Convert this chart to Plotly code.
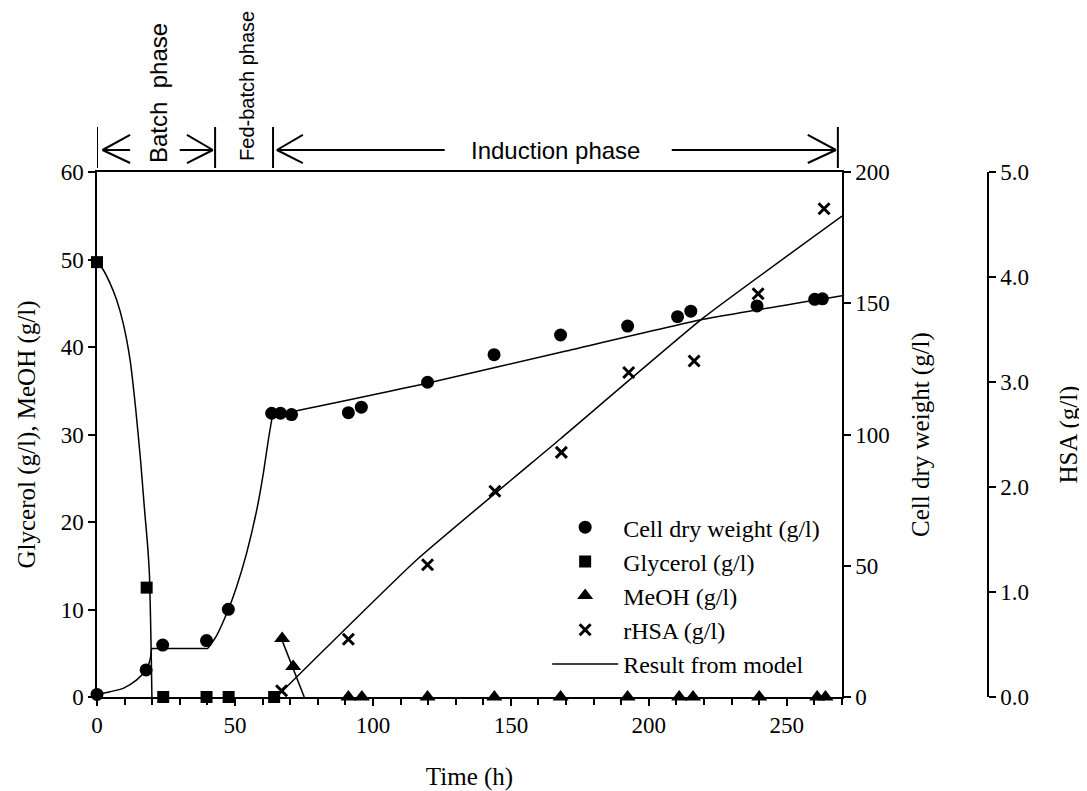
import plotly.graph_objects as go

# ---------------- data ----------------
t_cdw = [0, 17.8, 23.8, 39.7, 47.6, 63.3, 66.5, 70.5, 91.1, 95.8, 119.8, 143.9, 168.0, 192.3, 210.4, 215.2, 239.2, 260.1, 262.9]
cdw = [1.0, 10.3, 19.8, 21.5, 33.4, 108.1, 108.1, 107.6, 108.3, 110.4, 119.9, 130.4, 137.9, 141.3, 144.9, 147.0, 149.0, 151.5, 151.7]

t_gly = [0, 18.0, 24.0, 39.7, 47.7, 64.2]
gly = [49.7, 12.5, 0, 0, 0, 0]

t_meoh = [67.1, 71.1, 91.1, 96.0, 119.8, 144.0, 168.0, 192.3, 211.0, 216.0, 240.0, 261.0, 264.0]
meoh = [6.7, 3.5, 0, 0, 0, 0, 0, 0, 0, 0, 0, 0, 0]

t_hsa = [66.9, 91.1, 119.8, 144.2, 168.3, 192.7, 216.4, 239.6, 263.5]
hsa = [0.06, 0.55, 1.26, 1.96, 2.33, 3.09, 3.20, 3.84, 4.65]

# model curves
t_gly_model = [0, 2.3, 4.7, 7.1, 9.5, 12.0, 14.0, 15.8, 17.2, 18.3, 19.0, 19.4, 19.7, 19.9]
gly_model = [49.8, 48.8, 47.3, 45.4, 42.7, 38.5, 33.0, 27.0, 21.5, 17.5, 14.0, 9.0, 4.0, 0]

t_cdw_batch = [0, 4.7, 9.5, 14.4, 17.8, 19.2, 19.8]
cdw_batch = [1.0, 2.0, 3.3, 6.5, 10.3, 14.0, 18.5]
t_cdw_flat = [19.8, 40.2]
cdw_flat = [18.5, 18.5]
t_cdw_fed = [40.2, 43.4, 47.6, 50.6, 54.2, 57.9, 60.3, 62.1, 63.7]
cdw_fed = [18.5, 23.5, 33.3, 42.0, 54.7, 71.3, 85.3, 98.0, 108.0]
t_cdw_ind = [63.7, 70.5, 120.0, 170.0, 219.7, 270.0]
cdw_ind = [108.0, 108.7, 119.6, 131.8, 143.9, 152.9]

t_meoh_model = [67.3, 75.1]
meoh_model = [6.3, 0]

t_hsa_model = [65.0, 115.8, 168.0, 219.7, 270.0]
hsa_model = [0, 1.305, 2.46, 3.61, 4.58]

SERIF = "Liberation Serif, Times New Roman, serif"
SANS = "Liberation Sans, Arial, sans-serif"
FS_TICK = 23
FS_TITLE = 25
FS_LEG = 24

fig = go.Figure()

# model lines
line_style = dict(color="black", width=1.5)
fig.add_trace(go.Scatter(x=t_gly_model, y=gly_model, mode="lines", line=dict(**line_style, shape="spline", smoothing=0.6),
                         yaxis="y", showlegend=False, cliponaxis=False, hoverinfo="skip"))
fig.add_trace(go.Scatter(x=t_cdw_batch, y=cdw_batch, mode="lines", line=dict(**line_style, shape="spline", smoothing=0.6),
                         yaxis="y2", showlegend=False, cliponaxis=False, hoverinfo="skip"))
fig.add_trace(go.Scatter(x=t_cdw_flat, y=cdw_flat, mode="lines", line=line_style,
                         yaxis="y2", showlegend=False, cliponaxis=False, hoverinfo="skip"))
fig.add_trace(go.Scatter(x=t_cdw_fed, y=cdw_fed, mode="lines", line=dict(**line_style, shape="spline", smoothing=0.6),
                         yaxis="y2", showlegend=False, cliponaxis=False, hoverinfo="skip"))
fig.add_trace(go.Scatter(x=t_cdw_ind, y=cdw_ind, mode="lines", line=dict(**line_style, shape="spline", smoothing=0.4),
                         yaxis="y2", showlegend=False, cliponaxis=False, hoverinfo="skip"))
fig.add_trace(go.Scatter(x=t_meoh_model, y=meoh_model, mode="lines", line=line_style,
                         yaxis="y", showlegend=False, cliponaxis=False, hoverinfo="skip"))
fig.add_trace(go.Scatter(x=t_hsa_model, y=hsa_model, mode="lines", line=dict(**line_style, shape="spline", smoothing=0.4),
                         yaxis="y3", showlegend=False, cliponaxis=False, hoverinfo="skip"))

# data markers
fig.add_trace(go.Scatter(x=t_cdw, y=cdw, mode="markers", name="Cell dry weight (g/l)", yaxis="y2",
                         marker=dict(symbol="circle", size=13, color="black"), cliponaxis=False))
fig.add_trace(go.Scatter(x=t_gly, y=gly, mode="markers", name="Glycerol (g/l)", yaxis="y",
                         marker=dict(symbol="square", size=12, color="black"), cliponaxis=False))
fig.add_trace(go.Scatter(x=t_meoh, y=meoh, mode="markers", name="MeOH (g/l)", yaxis="y",
                         marker=dict(symbol="triangle-up", size=14, color="black"), cliponaxis=False))
fig.add_trace(go.Scatter(x=t_hsa, y=hsa, mode="markers", name="rHSA (g/l)", yaxis="y3",
                         marker=dict(symbol="x-thin", size=11, color="black", line=dict(color="black", width=3)),
                         cliponaxis=False))
# legend entry for model
fig.add_trace(go.Scatter(x=[None], y=[None], mode="lines", name="Result from model", line=line_style, yaxis="y"))

# -------- phase annotations (arrows above the plot) --------
shapes = []
bar_y0, bar_y1 = 1.0076, 1.0857
arrow_y = 1.0419
arm_hi, arm_lo = 1.0705, 1.0171
lw = 2
for xb in [0, 42.8, 63.8, 268.5]:
    shapes.append(dict(type="line", xref="x", yref="paper", x0=xb, x1=xb, y0=bar_y0, y1=bar_y1,
                       line=dict(color="black", width=lw)))

def seg(x0, x1, y0, y1):
    shapes.append(dict(type="line", xref="x", yref="paper", x0=x0, x1=x1, y0=y0, y1=y1,
                       line=dict(color="black", width=lw)))

def arrow(tip, arm_x, shaft_other):
    seg(tip, shaft_other, arrow_y, arrow_y)
    seg(tip, arm_x, arrow_y, arm_hi)
    seg(tip, arm_x, arrow_y, arm_lo)

arrow(2.0, 12.0, 12.0)
arrow(42.0, 32.6, 30.0)
arrow(65.2, 74.6, 126.0)
arrow(267.8, 257.6, 208.3)

annotations = [
    dict(text="Batch\u00a0 phase", x=22.1, y=1.0133, xref="x", yref="paper", textangle=-90,
         xanchor="center", yanchor="bottom", showarrow=False, font=dict(family=SANS, size=24, color="black")),
    dict(text="Fed-batch phase", x=54.3, y=1.017, xref="x", yref="paper", textangle=-90,
         xanchor="center", yanchor="bottom", showarrow=False, font=dict(family=SANS, size=20, color="black")),
    dict(text="Induction phase", x=166.0, y=arrow_y, xref="x", yref="paper",
         xanchor="center", yanchor="middle", showarrow=False, font=dict(family=SANS, size=24, color="black")),
]

axis_common = dict(showline=True, linecolor="black", linewidth=1.5, ticks="outside", ticklen=7,
                   tickcolor="black", tickwidth=1.5, showgrid=False, zeroline=False, automargin=False,
                   tickfont=dict(family=SERIF, size=FS_TICK, color="black"))
title_font = dict(family=SERIF, size=FS_TITLE, color="black")

dom_end = 745 / 903

fig.update_layout(
    width=1079, height=783,
    margin=dict(l=89, r=87, t=164, b=94, autoexpand=False),
    plot_bgcolor="white", paper_bgcolor="white",
    showlegend=True,
    legend=dict(x=0.4985, y=0.3655, xanchor="left", yanchor="top", bgcolor="rgba(0,0,0,0)",
                font=dict(family=SERIF, size=FS_LEG, color="black"), itemwidth=66, traceorder="normal"),
    xaxis=dict(**axis_common, domain=[0, dom_end], range=[0, 270], dtick=50, tick0=0,
               mirror=True,
               minor=dict(dtick=10, ticks="outside", ticklen=6, tickcolor="black", tickwidth=1.5),
               title=dict(text="Time (h)", font=title_font, standoff=31)),
    yaxis=dict(**axis_common, range=[0, 60], dtick=10,
               title=dict(text="Glycerol (g/l), MeOH (g/l)", font=title_font, standoff=18)),
    yaxis2=dict(**axis_common, range=[0, 200], dtick=50, overlaying="y", side="right", anchor="x",
                title=dict(text="Cell dry weight (g/l)", font=title_font, standoff=23)),
    yaxis3=dict(**axis_common, range=[0, 5], dtick=1, tickformat=".1f", overlaying="y", side="right",
                anchor="free", position=(988 - 97) / 903,
                title=dict(text="HSA (g/l)", font=title_font, standoff=30)),
    shapes=shapes,
    annotations=annotations,
)

fig.write_html("out.html")
